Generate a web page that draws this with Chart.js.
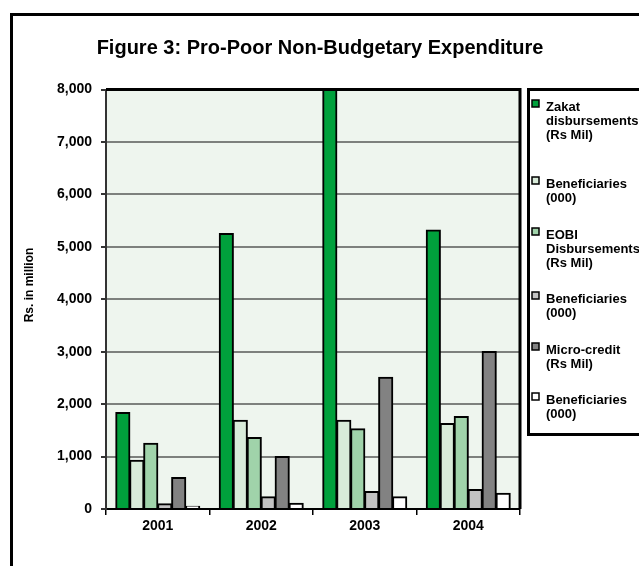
<!DOCTYPE html>
<html>
<head>
<meta charset="utf-8">
<script src="https://cdn.jsdelivr.net/npm/chart.js@4/dist/chart.umd.min.js"></script>
<style>
  html, body { margin: 0; padding: 0; background: #fff; }
  #wrap { width: 639px; height: 566px; position: relative; }
</style>
</head>
<body>
<div id="wrap"><canvas id="chart"></canvas></div>
<script>
// data
const years = ['2001', '2002', '2003', '2004'];
const zakat = [1840, 5250, 8000, 5320];
const zakatBenef = [930, 1690, 1690, 1630];
const eobi = [1250, 1360, 1530, 1760];
const eobiBenef = [100, 230, 330, 370];
const microCredit = [600, 1000, 2510, 3000];
const microBenef = [50, 110, 230, 300];

const seriesLabels = [
  ['Zakat', 'disbursements', '(Rs Mil)'],
  ['Beneficiaries', '(000)'],
  ['EOBI', 'Disbursements', '(Rs Mil)'],
  ['Beneficiaries', '(000)'],
  ['Micro-credit', '(Rs Mil)'],
  ['Beneficiaries', '(000)']
];
const seriesValues = [zakat, zakatBenef, eobi, eobiBenef, microCredit, microBenef];
const seriesColors = ['#00a03c', '#d8ebd9', '#a0d3aa', '#c3c3c3', '#828282', '#ffffff'];

const chartTitle = 'Figure 3: Pro-Poor Non-Budgetary Expenditure';
const yAxisTitle = 'Rs. in million';

const FONT = '"Liberation Sans", Arial, sans-serif';

// white page + pale green plot area
const backdrop = {
  id: 'backdrop',
  beforeDraw(chart) {
    const { ctx, chartArea: a } = chart;
    ctx.save();
    ctx.fillStyle = '#fff';
    ctx.fillRect(0, 0, chart.width, chart.height);
    ctx.fillStyle = '#eef5ee';
    ctx.fillRect(a.left, a.top, a.right - a.left, a.bottom - a.top);
    ctx.restore();
  }
};

// titles, plot frame, outer frame and the boxed legend on the right
const frames = {
  id: 'frames',
  afterDraw(chart) {
    const { ctx, chartArea: a } = chart;
    ctx.save();
    ctx.strokeStyle = '#000';
    ctx.lineWidth = 3;
    ctx.beginPath();
    ctx.moveTo(a.left, a.top);
    ctx.lineTo(a.right, a.top);
    ctx.lineTo(a.right, a.bottom);
    ctx.stroke();

    // outer border (runs off the right and bottom edges)
    ctx.strokeRect(11.5, 14.5, 800, 800);

    ctx.fillStyle = '#000';
    ctx.textAlign = 'center';
    ctx.textBaseline = 'middle';
    ctx.font = 'bold 20px ' + FONT;
    ctx.fillText(chartTitle, 320, 48);

    ctx.save();
    ctx.translate(30, 285);
    ctx.rotate(-Math.PI / 2);
    ctx.font = 'bold 12px ' + FONT;
    ctx.fillText(yAxisTitle, 0, 0);
    ctx.restore();

    // legend box
    ctx.fillStyle = '#fff';
    ctx.fillRect(528, 89, 200, 346);
    ctx.strokeRect(528.5, 89.5, 200, 345);

    const firstLine = [107, 184, 235, 299, 350, 400];
    const lineH = 14;
    ctx.font = 'bold 13px ' + FONT;
    ctx.textAlign = 'left';
    chart.data.datasets.forEach((ds, i) => {
      const y = firstLine[i];
      ctx.fillStyle = ds.backgroundColor;
      ctx.fillRect(532, y - 7, 7, 7);
      ctx.lineWidth = 1.5;
      ctx.strokeStyle = '#000';
      ctx.strokeRect(532, y - 7, 7, 7);
      ctx.fillStyle = '#000';
      ds.legendLines.forEach((t, k) => ctx.fillText(t, 546, y + k * lineH));
    });
    ctx.restore();
  }
};

const datasets = seriesValues.map((vals, i) => ({
  label: seriesLabels[i].join(' '),
  legendLines: seriesLabels[i],
  data: vals,
  backgroundColor: seriesColors[i],
  borderColor: '#000',
  borderWidth: 2,
  inflateAmount: 0.6,
  categoryPercentage: 0.81,
  barPercentage: 1.0
}));

new Chart(document.getElementById('chart'), {
  type: 'bar',
  data: { labels: years, datasets: datasets },
  options: {
    responsive: true,
    maintainAspectRatio: false,
    animation: false,
    layout: { padding: { left: 0, right: 119, top: 89.5, bottom: 0 } },
    plugins: {
      legend: { display: false },
      tooltip: { enabled: false },
      title: { display: false }
    },
    scales: {
      x: {
        grid: { offset: true, drawOnChartArea: false, drawTicks: true, tickLength: 6, color: '#000', lineWidth: 1.5 },
        border: { color: '#000', width: 2 },
        ticks: { color: '#000', padding: 3, font: { family: FONT, size: 14, weight: 'bold' } },
        afterFit(scale) { scale.height = 57; }
      },
      y: {
        min: 0,
        max: 8000,
        ticks: {
          stepSize: 1000,
          color: '#000',
          padding: 9,
          font: { family: FONT, size: 14, weight: 'bold' },
          callback: v => v.toLocaleString('en-US')
        },
        grid: { color: '#7d807d', lineWidth: 2, tickLength: 5, tickColor: '#333' },
        border: { color: '#333', width: 2 },
        afterFit(scale) { scale.width = 106; }
      }
    }
  },
  plugins: [backdrop, frames]
});
</script>
</body>
</html>
